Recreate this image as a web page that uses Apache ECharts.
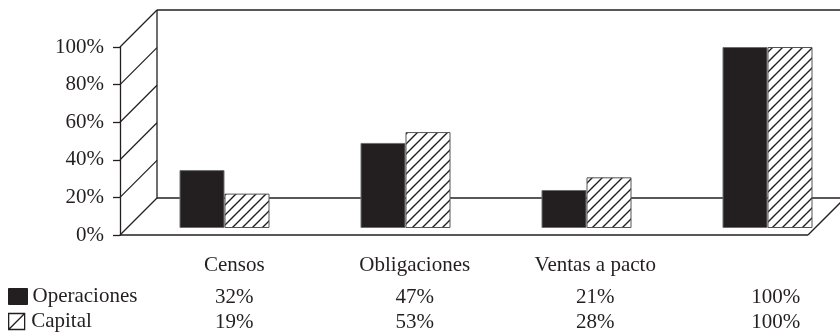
<!DOCTYPE html>
<html>
<head>
<meta charset="utf-8">
<script src="https://cdn.jsdelivr.net/npm/echarts@6/dist/echarts.min.js"></script>
<style>
  html, body { margin: 0; padding: 0; background: #fff; }
  #chart { width: 840px; height: 332px; }
</style>
</head>
<body>
<div id="chart"></div>
<script>
// Share of operations and capital by instrument
const categories = ['Censos', 'Obligaciones', 'Ventas a pacto', ''];
const operaciones = [32, 47, 21, 100];
const capital = [19, 53, 28, 100];
const yTicks = [0, 20, 40, 60, 80, 100];

const INK = '#231f20';
const FONT = '"Liberation Serif", "Times New Roman", serif';
const DX = 37, DY = 37;   // depth offset of the back wall

// white tile with a "/" stroke for the hatched series
function hatchTile() {
  const s = 10;
  const c = document.createElement('canvas');
  c.width = s; c.height = s;
  const g = c.getContext('2d');
  g.fillStyle = '#fff';
  g.fillRect(0, 0, s, s);
  g.strokeStyle = INK;
  g.lineWidth = 1.4;
  g.beginPath();
  g.moveTo(-1, s + 1); g.lineTo(s + 1, -1);
  g.moveTo(-1, 1); g.lineTo(1, -1);
  g.moveTo(s - 1, s + 1); g.lineTo(s + 1, s - 1);
  g.stroke();
  return c;
}

// side wall, back wall and floor of the pseudo-3D box
function renderFrame(params, api) {
  const lines = [];
  const seg = (a, b) => lines.push({
    type: 'line',
    shape: { x1: a[0], y1: a[1], x2: b[0], y2: b[1] },
    style: { stroke: INK, lineWidth: 1.3 }
  });
  const back = p => [p[0] + DX, p[1] - DY];
  const o = api.coord([0, yTicks[0]]);
  const top = api.coord([0, yTicks[yTicks.length - 1]]);
  const r = api.coord([1, yTicks[0]]);
  yTicks.forEach(v => { const p = api.coord([0, v]); seg(p, back(p)); });
  seg(back(o), back(top));
  seg(back(top), [back(r)[0], back(top)[1]]);
  seg(back(o), back(r));
  seg(o, r);
  seg(r, back(r));
  return { type: 'group', children: lines };
}

const chart = echarts.init(document.getElementById('chart'), null, { renderer: 'canvas' });

const rowLabel = (i) => '{c|' + (categories[i] || ' ') + '}\n{v|' + operaciones[i] + '%}\n{v|' + capital[i] + '%}';

// one legend row per series, stacked like the rows of the data table
const legendRow = (top, item) => ({
  orient: 'horizontal', left: 8, top: top, padding: 0,
  itemWidth: 19, itemHeight: 16,
  selectedMode: false,
  textStyle: { fontFamily: FONT, fontSize: 21, color: INK },
  data: [item]
});

chart.setOption({
  animation: false,
  backgroundColor: '#fff',
  textStyle: { fontFamily: FONT, color: INK },
  grid: [
    { left: 134, top: 47, width: 724, height: 181, outerBoundsMode: 'none', containLabel: false },   // bars
    { left: 120, top: 47, width: 688, height: 188, outerBoundsMode: 'none', containLabel: false },   // front axis and frame
    { left: 144, top: 228, width: 722, height: 1, outerBoundsMode: 'none', containLabel: false }     // data table
  ],
  xAxis: [
    { gridIndex: 0, type: 'category', data: categories, show: false },
    { gridIndex: 1, type: 'value', min: 0, max: 1, show: false },
    {
      gridIndex: 2, type: 'category', data: categories, position: 'bottom',
      axisLine: { show: false }, axisTick: { show: false },
      axisLabel: {
        margin: 17, interval: 0,
        formatter: (val, i) => rowLabel(i),
        rich: {
          c: { fontFamily: FONT, fontSize: 21, color: INK, lineHeight: 39 },
          v: { fontFamily: FONT, fontSize: 21, color: INK, lineHeight: 25 }
        }
      }
    }
  ],
  yAxis: [
    { gridIndex: 0, type: 'value', min: 0, max: 100, show: false },
    {
      gridIndex: 1, type: 'value', min: 0, max: 100, interval: 20,
      axisLine: { show: true, lineStyle: { color: INK, width: 1.3 } },
      axisTick: { show: true, length: 7, lineStyle: { color: INK, width: 1.3 } },
      splitLine: { show: false },
      axisLabel: { margin: 16, fontFamily: FONT, fontSize: 21, color: INK, formatter: '{value}%' }
    },
    { gridIndex: 2, type: 'value', show: false }
  ],
  legend: [
    legendRow(286, { name: 'Operaciones', icon: 'rect',
      itemStyle: { color: INK, borderColor: INK, borderWidth: 1 } }),
    legendRow(311, { name: 'Capital', icon: 'path://M0,0L20,0L20,20L0,20Z M0,20L20,0',
      itemStyle: { color: '#fff', borderColor: INK, borderWidth: 1.3 } })
  ],
  series: [
    {
      type: 'custom', name: 'frame', xAxisIndex: 1, yAxisIndex: 1,
      data: [[0, 0]], renderItem: renderFrame, clip: false, silent: true, z: 1
    },
    {
      type: 'bar', name: 'Operaciones', xAxisIndex: 0, yAxisIndex: 0,
      data: operaciones, barWidth: 45, barGap: '0%', z: 5,
      itemStyle: { color: INK, borderColor: '#6d6e71', borderWidth: 1 }
    },
    {
      type: 'bar', name: 'Capital', xAxisIndex: 0, yAxisIndex: 0,
      data: capital, barWidth: 45, barGap: '0%', z: 5,
      itemStyle: { color: { image: hatchTile(), repeat: 'repeat' }, borderColor: '#555', borderWidth: 1 }
    }
  ]
});
</script>
</body>
</html>
